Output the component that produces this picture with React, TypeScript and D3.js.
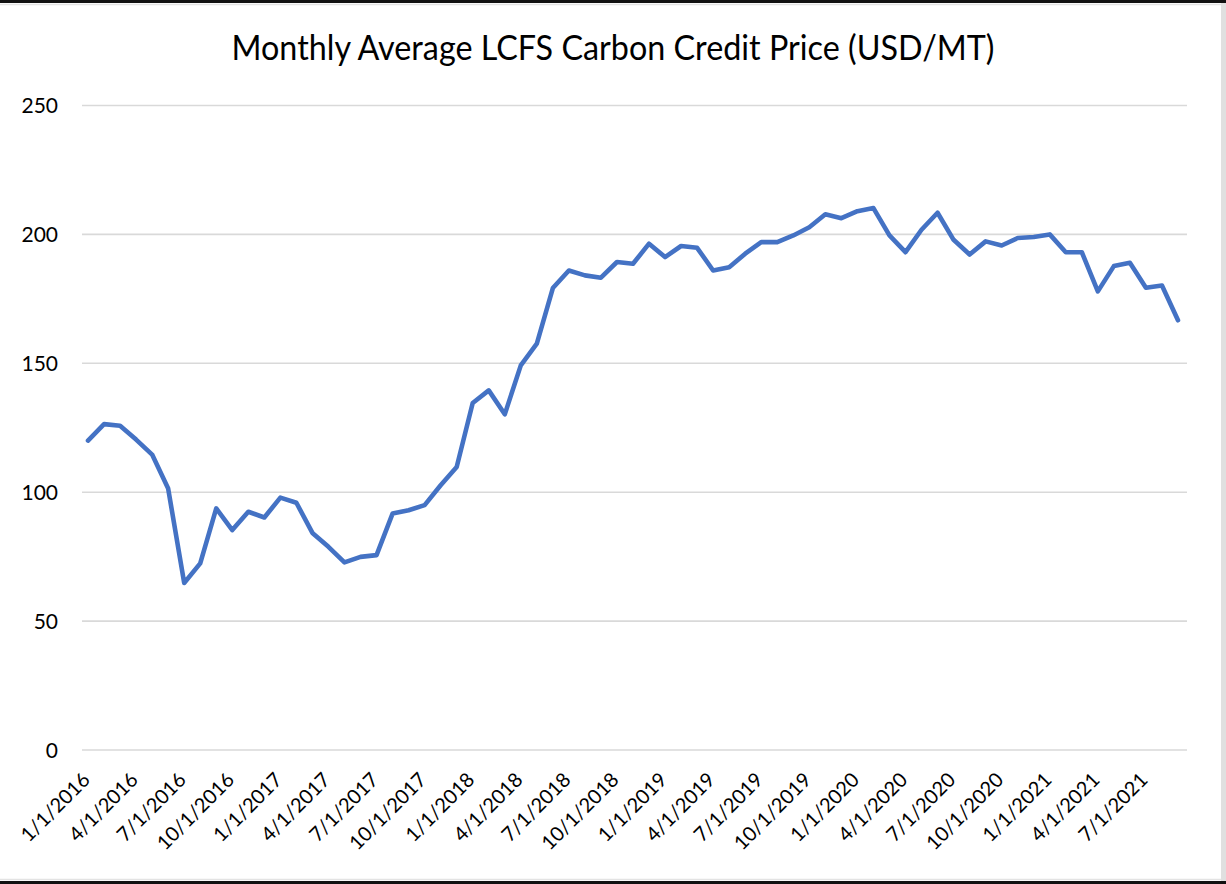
import React from 'react';
import * as d3 from 'd3';

// monthly average price, Jan 2016 .. Sep 2021
const startYear = 2016;
const prices2016 = [120, 126.4, 125.8, 120.4, 114.6, 101.4, 64.8, 72.4, 93.7, 85.3, 92.4, 90.2];
const prices2017 = [97.9, 95.9, 84.2, 78.8, 72.8, 74.9, 75.6, 91.7, 93.0, 95.0, 102.7, 109.8];
const prices2018 = [134.6, 139.5, 130.2, 149.2, 157.6, 179.2, 186.0, 184.1, 183.2, 189.3, 188.6, 196.4];
const prices2019 = [191.2, 195.5, 194.8, 186.0, 187.3, 192.5, 197.0, 197.0, 199.6, 202.8, 207.8, 206.3];
const prices2020 = [209.0, 210.2, 199.6, 193.1, 201.8, 208.4, 197.9, 192.2, 197.3, 195.7, 198.6, 199.0];
const prices2021 = [200.0, 193.1, 193.1, 177.9, 187.7, 189.0, 179.3, 180.2, 166.7];

const yTicks = [0, 50, 100, 150, 200, 250];
const title = 'Monthly Average LCFS Carbon Credit Price (USD/MT)';

const allPrices = [...prices2016, ...prices2017, ...prices2018, ...prices2019, ...prices2020, ...prices2021];
const data = allPrices.map((v, i) => ({
  month: (i % 12) + 1,
  year: startYear + Math.floor(i / 12),
  value: v,
}));
const dateLabel = (d) => `${d.month}/1/${d.year}`;

const W = 1226;
const H = 884;
const FONT = "Lato, 'Noto Sans', sans-serif";

export default function App() {
  const x = d3.scalePoint()
    .domain(data.map(dateLabel))
    .range([80, 1186])
    .padding(0.5);
  const y = d3.scaleLinear().domain([0, 250]).range([750, 105.5]);

  const line = d3.line()
    .x((d) => x(dateLabel(d)))
    .y((d) => y(d.value));

  const tickData = data.filter((d, i) => i % 3 === 0);

  return (
    <svg width={W} height={H} style={{ position: 'absolute', left: 0, top: 0, background: '#fff' }}
      fontFamily={FONT}>
      <rect x={0} y={0} width={W} height={H} fill="#fff" />
      {/* frame */}
      <rect x={0} y={0} width={W} height={3} fill="#111" />
      <line x1={0} x2={W} y1={4.5} y2={4.5} stroke="#e3e3e3" strokeWidth={1.5} />
      <rect x={1221} y={3} width={5} height={878} fill="#e0e0e0" />
      <line x1={0} x2={1221} y1={879.5} y2={879.5} stroke="#e3e3e3" strokeWidth={1.5} />
      <rect x={0} y={881} width={W} height={3} fill="#111" />

      <text x={613} y={60} textAnchor="middle" fontSize={34} fill="#000"
        textLength={763} lengthAdjust="spacingAndGlyphs">{title}</text>

      {yTicks.map((t) => (
        <g key={t}>
          <line x1={82} x2={1187} y1={y(t)} y2={y(t)} stroke="#d9d9d9" strokeWidth={1.6} />
          <text x={58} y={y(t)} dy="0.36em" textAnchor="end" fontSize={21} fill="#000">{t}</text>
        </g>
      ))}

      {tickData.map((d) => {
        const px = x(dateLabel(d)) - 2;
        return (
          <text key={dateLabel(d)} transform={`translate(${px},776) rotate(-45)`}
            textAnchor="end" dy="0.36em" fontSize={20} fill="#000">{dateLabel(d)}</text>
        );
      })}

      <path d={line(data)} fill="none" stroke="#4472C4" strokeWidth={4.6}
        strokeLinejoin="round" strokeLinecap="round" />
    </svg>
  );
}
